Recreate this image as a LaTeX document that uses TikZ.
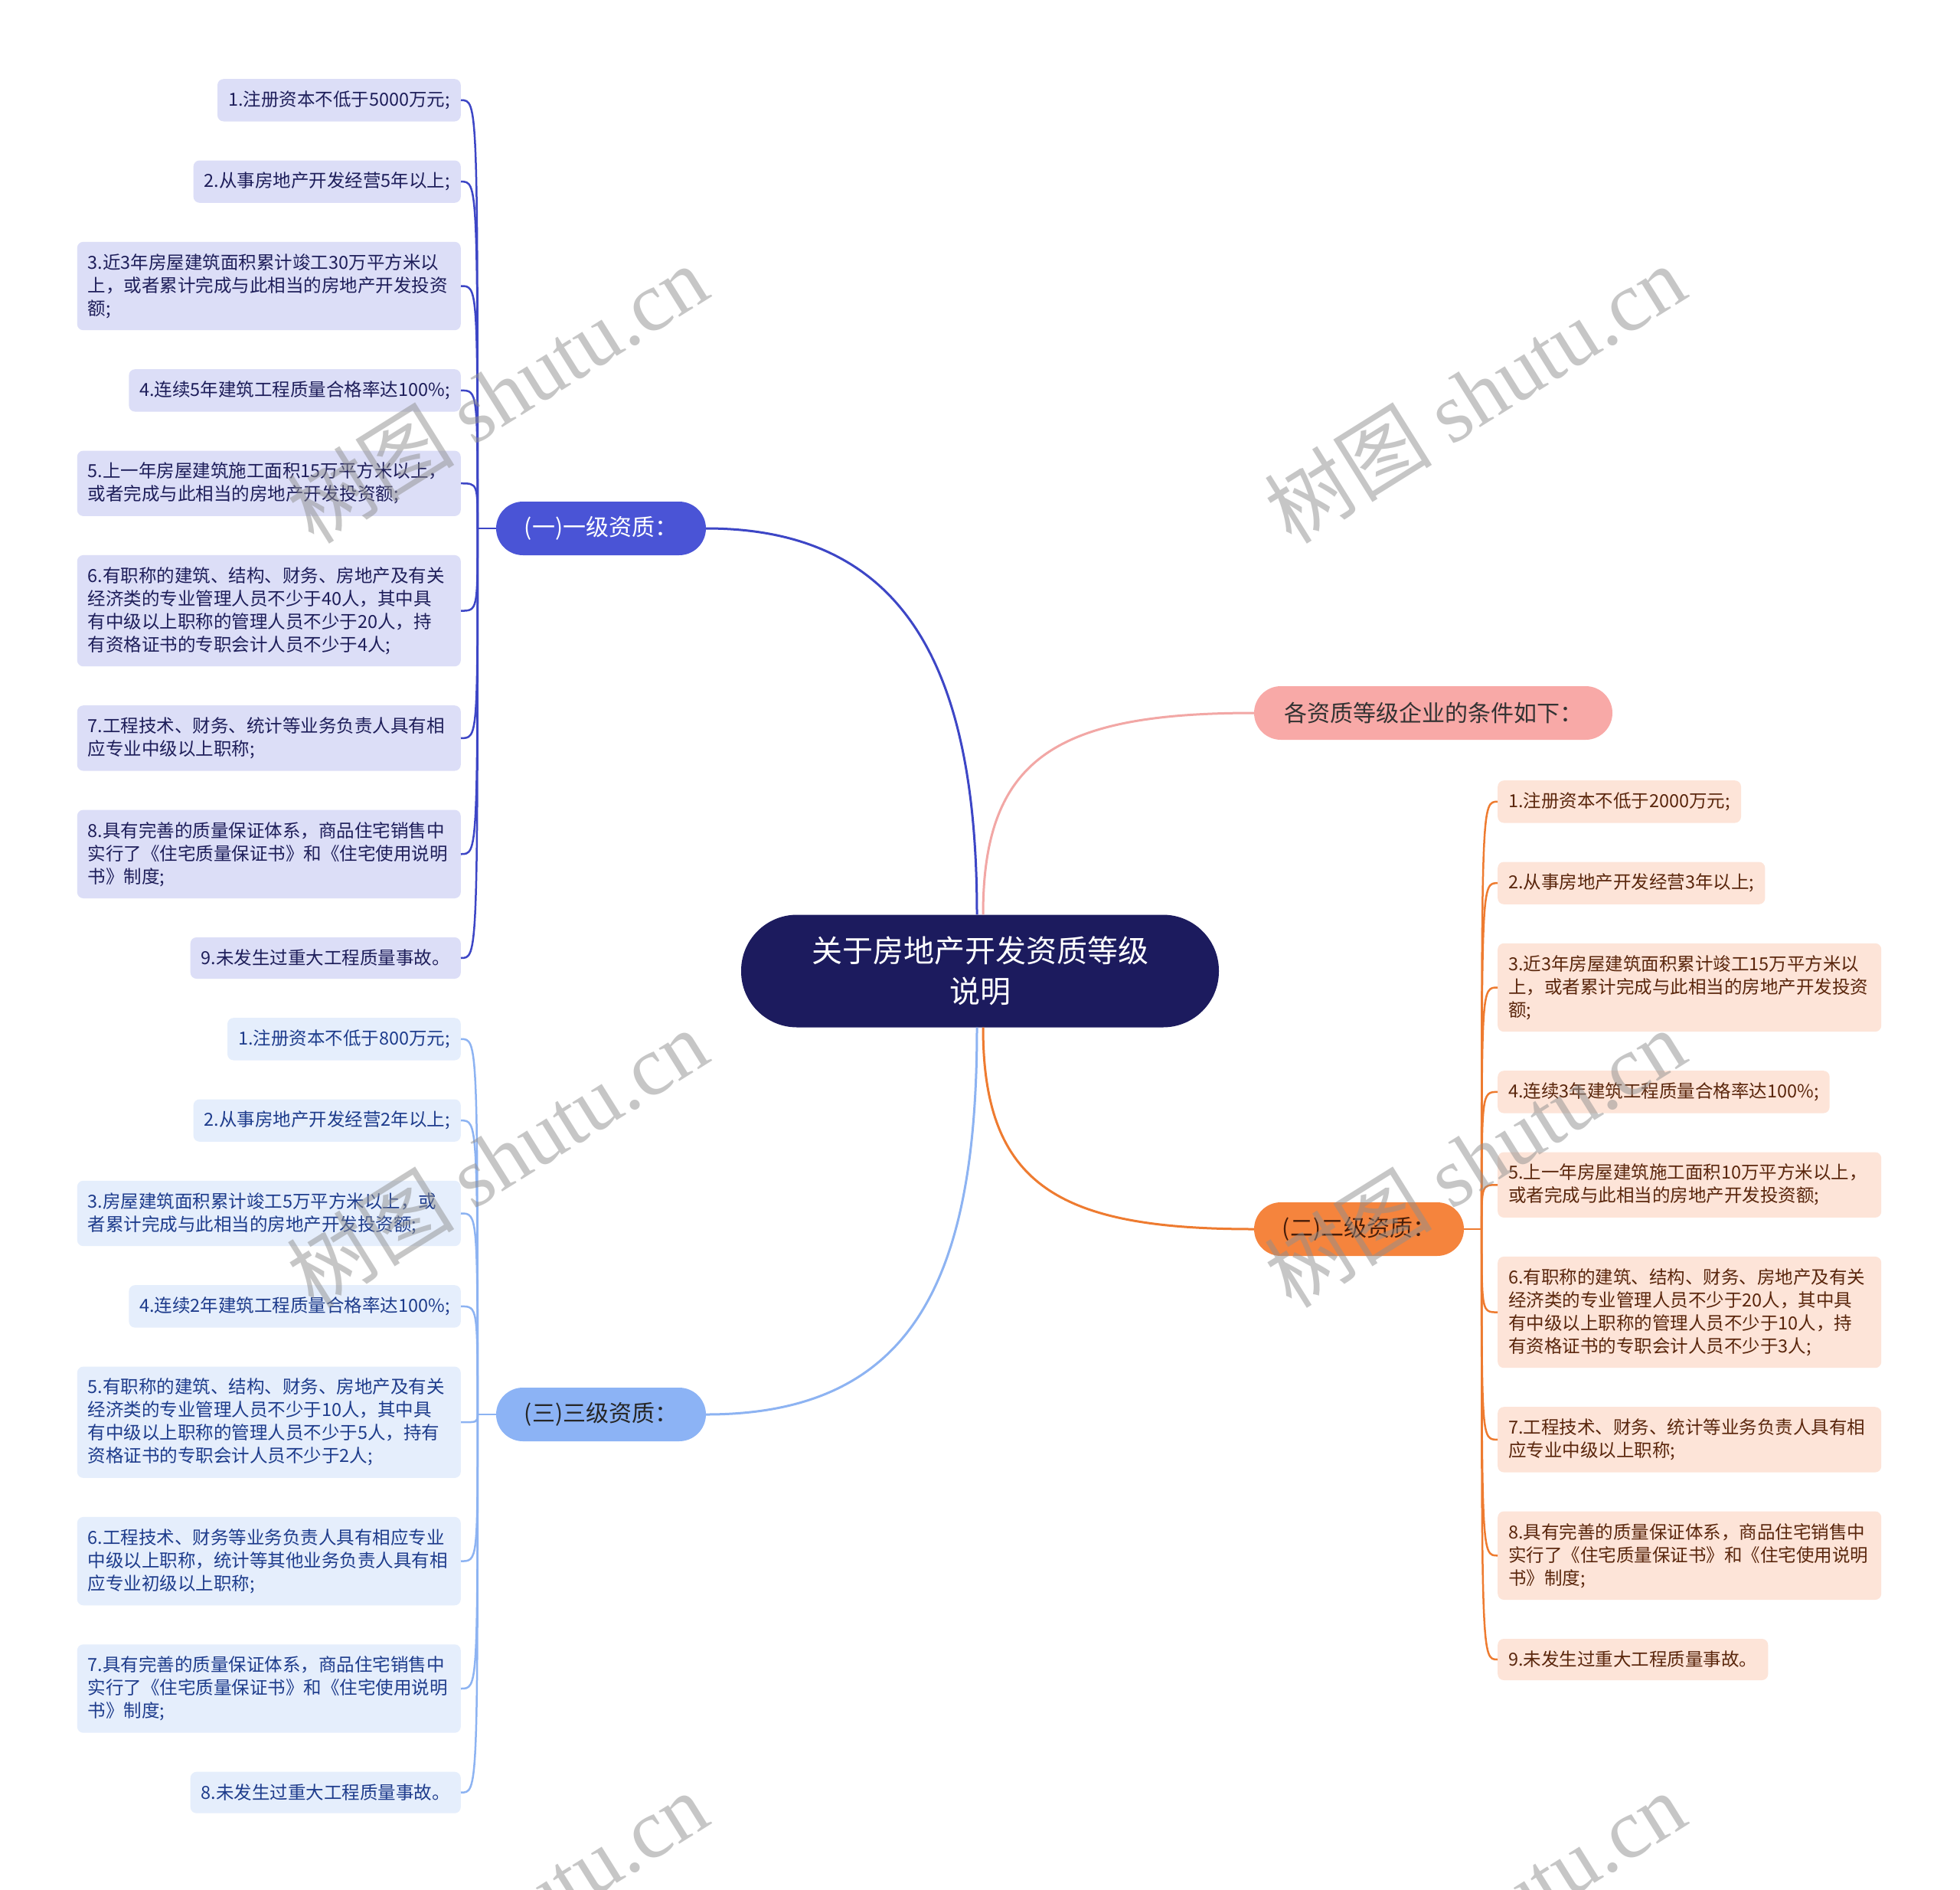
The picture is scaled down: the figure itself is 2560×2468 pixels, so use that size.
\documentclass[tikz,border=0pt]{standalone}
\usepackage{fontspec}
\setmainfont{Noto Sans CJK SC}
\newfontfamily\wmserif{Liberation Serif}
\usetikzlibrary{positioning}
\definecolor{RootNavy}{HTML}{1C1B5E}
\definecolor{GradeA}{HTML}{4A54D6}
\definecolor{GradeB}{HTML}{F5843D}
\definecolor{GradeC}{HTML}{8CB3F5}
\definecolor{GradeP}{HTML}{F8A9A7}
\definecolor{LineA}{HTML}{3D46C6}
\definecolor{LineB}{HTML}{EE7B30}
\definecolor{LineC}{HTML}{8DB3F2}
\definecolor{LineP}{HTML}{F2A7A5}
\definecolor{FillA}{HTML}{DCDEF7}
\definecolor{FillB}{HTML}{FDE4D8}
\definecolor{FillC}{HTML}{E5EEFC}
\definecolor{TextA}{HTML}{1E1E5A}
\definecolor{TextB}{HTML}{5A260C}
\definecolor{TextC}{HTML}{1E3C8C}

\begin{document}
\begin{tikzpicture}[
  x=1pt,y=-1pt,
  node distance=50.6pt,
  root/.style={fill=RootNavy,rounded corners=73pt,minimum width=624pt,minimum height=147pt,align=center,text=white,font=\fontsize{40}{53}\selectfont},
  grade/.style={rounded corners=35pt,minimum width=274pt,minimum height=70pt,font=\fontsize{30}{36}\selectfont},
  leaf/.style={rounded corners=8pt,inner xsep=14pt,inner ysep=15.5pt,minimum height=54pt,font=\fontsize{23.5}{30}\selectfont},
  wide/.style={text width=473pt,align=left},
  leafa/.style={leaf,fill=FillA,text=TextA},
  leafb/.style={leaf,fill=FillB,text=TextB},
  leafc/.style={leaf,fill=FillC,text=TextC},
  hook/.style={to path={.. controls (\tikztostart |- \tikztotarget) and (\tikztostart |- \tikztotarget) .. (\tikztotarget)}},
  lka/.style={draw=LineA,line width=2.5pt,hook},
  lkb/.style={draw=LineB,line width=2.5pt,hook},
  lkc/.style={draw=LineC,line width=2.5pt,hook},
  wmark/.style={rotate=32,text=black!44,opacity=0.5,font=\fontsize{110}{110}\selectfont}
]
\path[use as bounding box,fill=white] (0,0) rectangle (2560,2468);

\node[root] (root) at (1280,1268) {关于房地产开发资质等级\\说明};
\node[grade,fill=GradeA,text=white] (g1) at (785,690) {(一)一级资质：};
\node[grade,fill=GradeP,text=black!80,minimum width=468pt] (gp) at (1872,931) {各资质等级企业的条件如下：};
\node[grade,fill=GradeB,text=TextB!80!black] (g2) at (1775,1605) {(二)二级资质：};
\node[grade,fill=GradeC,text=black!85] (g3) at (785,1847) {(三)三级资质：};

\node[leafa,anchor=north east] (a1) at (602,103) {1.注册资本不低于5000万元;};
\node[leafa,below=of a1.south east,anchor=north east] (a2) {2.从事房地产开发经营5年以上;};
\node[leafa,wide,below=of a2.south east,anchor=north east] (a3) {3.近3年房屋建筑面积累计竣工30万平方米以\\上，或者累计完成与此相当的房地产开发投资\\额;};
\node[leafa,below=of a3.south east,anchor=north east] (a4) {4.连续5年建筑工程质量合格率达100\%;};
\node[leafa,wide,below=of a4.south east,anchor=north east] (a5) {5.上一年房屋建筑施工面积15万平方米以上，\\或者完成与此相当的房地产开发投资额;};
\node[leafa,wide,below=of a5.south east,anchor=north east] (a6) {6.有职称的建筑、结构、财务、房地产及有关\\经济类的专业管理人员不少于40人，其中具\\有中级以上职称的管理人员不少于20人，持\\有资格证书的专职会计人员不少于4人;};
\node[leafa,wide,below=of a6.south east,anchor=north east] (a7) {7.工程技术、财务、统计等业务负责人具有相\\应专业中级以上职称;};
\node[leafa,wide,below=of a7.south east,anchor=north east] (a8) {8.具有完善的质量保证体系，商品住宅销售中\\实行了《住宅质量保证书》和《住宅使用说明\\书》制度;};
\node[leafa,below=of a8.south east,anchor=north east] (a9) {9.未发生过重大工程质量事故。};

\node[leafb,anchor=north west] (b1) at (1956,1019) {1.注册资本不低于2000万元;};
\node[leafb,below=of b1.south west,anchor=north west] (b2) {2.从事房地产开发经营3年以上;};
\node[leafb,wide,below=of b2.south west,anchor=north west] (b3) {3.近3年房屋建筑面积累计竣工15万平方米以\\上，或者累计完成与此相当的房地产开发投资\\额;};
\node[leafb,below=of b3.south west,anchor=north west] (b4) {4.连续3年建筑工程质量合格率达100\%;};
\node[leafb,wide,below=of b4.south west,anchor=north west] (b5) {5.上一年房屋建筑施工面积10万平方米以上，\\或者完成与此相当的房地产开发投资额;};
\node[leafb,wide,below=of b5.south west,anchor=north west] (b6) {6.有职称的建筑、结构、财务、房地产及有关\\经济类的专业管理人员不少于20人，其中具\\有中级以上职称的管理人员不少于10人，持\\有资格证书的专职会计人员不少于3人;};
\node[leafb,wide,below=of b6.south west,anchor=north west] (b7) {7.工程技术、财务、统计等业务负责人具有相\\应专业中级以上职称;};
\node[leafb,wide,below=of b7.south west,anchor=north west] (b8) {8.具有完善的质量保证体系，商品住宅销售中\\实行了《住宅质量保证书》和《住宅使用说明\\书》制度;};
\node[leafb,below=of b8.south west,anchor=north west] (b9) {9.未发生过重大工程质量事故。};

\node[leafc,anchor=north east] (c1) at (602,1329) {1.注册资本不低于800万元;};
\node[leafc,below=of c1.south east,anchor=north east] (c2) {2.从事房地产开发经营2年以上;};
\node[leafc,wide,below=of c2.south east,anchor=north east] (c3) {3.房屋建筑面积累计竣工5万平方米以上，或\\者累计完成与此相当的房地产开发投资额;};
\node[leafc,below=of c3.south east,anchor=north east] (c4) {4.连续2年建筑工程质量合格率达100\%;};
\node[leafc,wide,below=of c4.south east,anchor=north east] (c5) {5.有职称的建筑、结构、财务、房地产及有关\\经济类的专业管理人员不少于10人，其中具\\有中级以上职称的管理人员不少于5人，持有\\资格证书的专职会计人员不少于2人;};
\node[leafc,wide,below=of c5.south east,anchor=north east] (c6) {6.工程技术、财务等业务负责人具有相应专业\\中级以上职称，统计等其他业务负责人具有相\\应专业初级以上职称;};
\node[leafc,wide,below=of c6.south east,anchor=north east] (c7) {7.具有完善的质量保证体系，商品住宅销售中\\实行了《住宅质量保证书》和《住宅使用说明\\书》制度;};
\node[leafc,below=of c7.south east,anchor=north east] (c8) {8.未发生过重大工程质量事故。};

\coordinate[left=24pt of g1] (ja);
\coordinate[right=23pt of g2] (jb);
\coordinate[left=24pt of g3] (jc);

\draw[draw=LineA,line width=3pt] (g1.east) .. controls +(258,0) and +(0,-325) .. ([xshift=-4pt]root.north);
\draw[draw=LineP,line width=3pt] (gp.west) .. controls +(-258,0) and +(0,-205) .. ([xshift=4pt]root.north);
\draw[draw=LineB,line width=3pt] (g2.west) .. controls +(-253,0) and +(0,208) .. ([xshift=4pt]root.south);
\draw[draw=LineC,line width=3pt] (g3.east) .. controls +(270,0) and +(0,330) .. ([xshift=-4pt]root.south);

\draw[lka] (g1.west) -- (ja);
\draw[lka] (ja) to (a1.east);
\draw[lka] (ja) to (a2.east);
\draw[lka] (ja) to (a3.east);
\draw[lka] (ja) to (a4.east);
\draw[lka] (ja) to (a5.east);
\draw[lka] (ja) to (a6.east);
\draw[lka] (ja) to (a7.east);
\draw[lka] (ja) to (a8.east);
\draw[lka] (ja) to (a9.east);

\draw[lkb] (g2.east) -- (jb);
\draw[lkb] (jb) to (b1.west);
\draw[lkb] (jb) to (b2.west);
\draw[lkb] (jb) to (b3.west);
\draw[lkb] (jb) to (b4.west);
\draw[lkb] (jb) to (b5.west);
\draw[lkb] (jb) to (b6.west);
\draw[lkb] (jb) to (b7.west);
\draw[lkb] (jb) to (b8.west);
\draw[lkb] (jb) to (b9.west);

\draw[lkc] (g3.west) -- (jc);
\draw[lkc] (jc) to (c1.east);
\draw[lkc] (jc) to (c2.east);
\draw[lkc] (jc) to (c3.east);
\draw[lkc] (jc) to (c4.east);
\draw[lkc] (jc) to (c5.east);
\draw[lkc] (jc) to (c6.east);
\draw[lkc] (jc) to (c7.east);
\draw[lkc] (jc) to (c8.east);

\begin{scope}
\clip (0,0) rectangle (2560,2468);
\node[wmark] (w1) at (649,514) {树图 {\wmserif shutu.cn}};
\node[wmark] (w2) at (1926,514) {树图 {\wmserif shutu.cn}};
\node[wmark] (w3) at (649,1512) {树图 {\wmserif shutu.cn}};
\node[wmark] (w4) at (1926,1512) {树图 {\wmserif shutu.cn}};
\node[wmark] (w5) at (649,2508) {树图 {\wmserif shutu.cn}};
\node[wmark] (w6) at (1926,2508) {树图 {\wmserif shutu.cn}};
\end{scope}
\end{tikzpicture}
\end{document}
